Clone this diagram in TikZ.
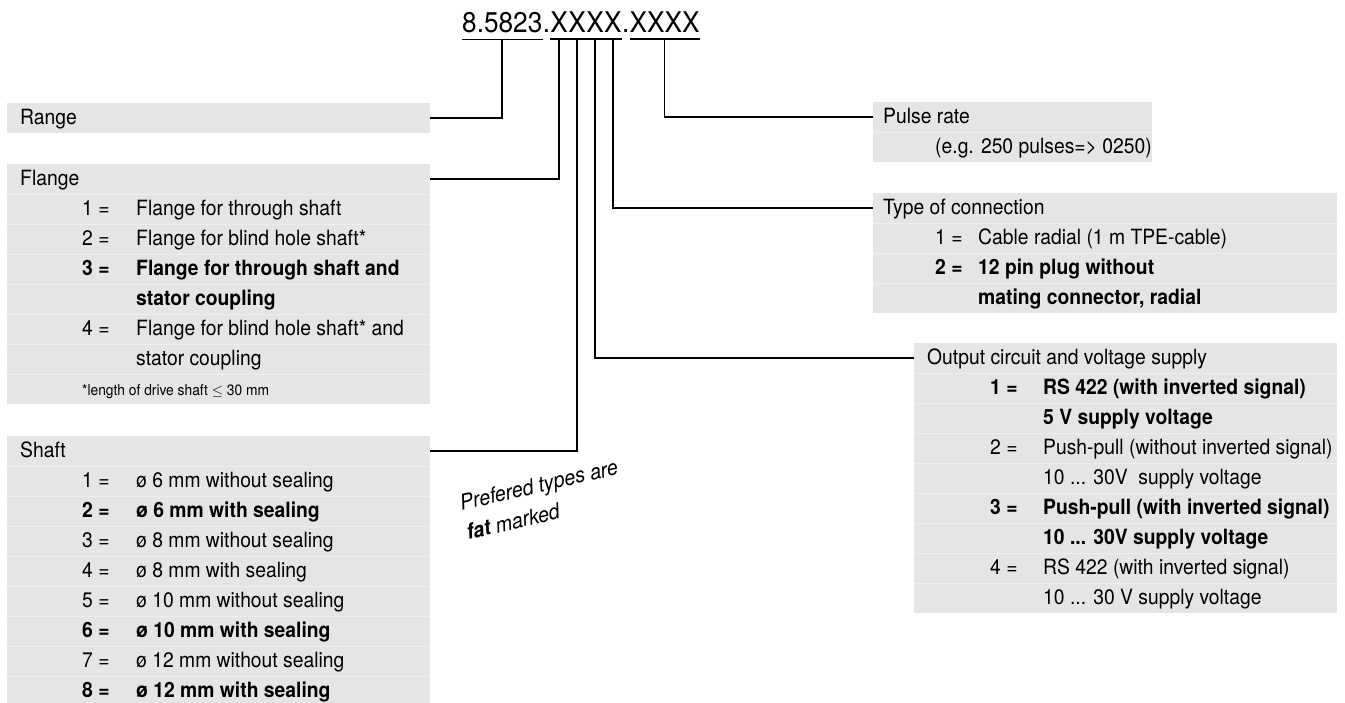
\documentclass[tikz,border=0pt]{standalone}
\usepackage{fontspec}
\setmainfont[FakeStretch=0.92]{TeX Gyre Heros}
\usepackage{array}
\usepackage{colortbl}
\usetikzlibrary{positioning}
\definecolor{boxgray}{RGB}{229,229,229}
\definecolor{rulegray}{RGB}{238,238,238}
\arrayrulecolor{rulegray}
\setlength{\arrayrulewidth}{0.6pt}
\newcommand{\rowsep}{\hline\noalign{\vskip-\arrayrulewidth}}

\begin{document}
\begin{tikzpicture}[x=1pt,y=1pt,
    code/.style={inner sep=0pt,anchor=base west,font=\fontsize{28.5}{34}\selectfont},
    box/.style={fill=boxgray,inner sep=0pt,anchor=north west,font=\fontsize{21}{30}\selectfont},
    lead/.style={line width=1.6pt}]
    \useasboundingbox (0,0) rectangle (1345,-703);

    % order code
    \node [code] (n8) at (462,-33) {8.5823};
    \node [code] (d1) at (n8.base east) {.};
    \node [code] (x1) at (d1.base east) {X};
    \node [code] (x2) at (x1.base east) {X};
    \node [code] (x3) at (x2.base east) {X};
    \node [code] (x4) at (x3.base east) {X};
    \node [code] (d2) at (x4.base east) {.};
    \node [code] (pr) at (d2.base east) {XXXX};

    \draw [lead] ([yshift=-6pt]n8.south west) -- ([yshift=-6pt]n8.south east);
    \draw [lead] ([yshift=-6pt]x1.south west) -- ([yshift=-6pt]x4.south east);
    \draw [lead] ([yshift=-6pt]pr.south west) -- ([yshift=-6pt]pr.south east);

    % left side
    \node [box] (range) at (7,-103) {%
      \begin{tabular}{@{\hspace{13pt}}p{410pt}@{}}
        Range
      \end{tabular}};

    \node [box] (flange) at (7,-164) {%
      \begin{tabular}{@{\hspace{75pt}}p{54pt}@{}p{294pt}@{}}
        \multicolumn{2}{@{\hspace{13pt}}l@{}}{Flange}\\\rowsep
        1 = & Flange for through shaft\\\rowsep
        2 = & Flange for blind hole shaft*\\\rowsep
        \textbf{3 =} & \textbf{Flange for through shaft and}\\\rowsep
        & \textbf{stator coupling}\\\rowsep
        4 = & Flange for blind hole shaft* and\\\rowsep
        & stator coupling\\\rowsep
        \multicolumn{2}{@{\hspace{75pt}}l@{}}{\fontsize{15}{30}\selectfont *length of drive shaft $\le$ 30 mm}
      \end{tabular}};

    \node [box] (shaft) at (7,-436) {%
      \begin{tabular}{@{\hspace{75pt}}p{54pt}@{}p{294pt}@{}}
        \multicolumn{2}{@{\hspace{13pt}}l@{}}{Shaft}\\\rowsep
        1 = & ø 6 mm without sealing\\\rowsep
        \textbf{2 =} & \textbf{ø 6 mm with sealing}\\\rowsep
        3 = & ø 8 mm without sealing\\\rowsep
        4 = & ø 8 mm with sealing\\\rowsep
        5 = & ø 10 mm without sealing\\\rowsep
        \textbf{6 =} & \textbf{ø 10 mm with sealing}\\\rowsep
        7 = & ø 12 mm without sealing\\\rowsep
        \textbf{8 =} & \textbf{ø 12 mm with sealing}
      \end{tabular}};

    % right side
    \node [box] (pulse) at (873,-102) {%
      \begin{tabular}{@{\hspace{62pt}}p{43pt}@{}p{359pt}@{}}
        \multicolumn{2}{@{\hspace{10pt}}l@{}}{Pulse rate}\\\rowsep
        \multicolumn{2}{@{\hspace{62pt}}l@{}}{(e.g. 250 pulses=> 0250)}
      \end{tabular}};

    \node [box] (conn) at (873,-193) {%
      \begin{tabular}{@{\hspace{62pt}}p{43pt}@{}p{359pt}@{}}
        \multicolumn{2}{@{\hspace{10pt}}l@{}}{Type of connection}\\\rowsep
        1 = & Cable radial (1 m TPE-cable)\\\rowsep
        \textbf{2 =} & \textbf{12 pin plug without}\\\rowsep
        & \textbf{mating connector, radial}
      \end{tabular}};

    \node [box] (output) at (914,-343) {%
      \begin{tabular}{@{\hspace{76pt}}p{53pt}@{}p{294pt}@{}}
        \multicolumn{2}{@{\hspace{13pt}}l@{}}{Output circuit and voltage supply}\\\rowsep
        \textbf{1 =} & \textbf{RS 422 (with inverted signal)}\\\rowsep
        & \textbf{5 V supply voltage}\\\rowsep
        2 = & Push-pull (without inverted signal)\\\rowsep
        & 10 ... 30V\ \ supply voltage\\\rowsep
        \textbf{3 =} & \textbf{Push-pull (with inverted signal)}\\\rowsep
        & \textbf{10 ... 30V supply voltage}\\\rowsep
        4 = & RS 422 (with inverted signal)\\\rowsep
        & 10 ... 30 V supply voltage
      \end{tabular}};

    \node [rotate=13,anchor=north west,align=left,inner sep=0pt,
      font=\fontsize{21.5}{30}\selectfont\itshape] (note) at (458,-495)
      {Prefered types are\\\textbf{fat} marked};

    % leads
    \draw [lead] (range.east) -| ([yshift=-6pt]n8.south);
    \draw [lead] ([yshift=-15pt]flange.north east) -| ([yshift=-6pt]x1.south);
    \draw [lead] ([yshift=-15pt]shaft.north east) -| ([yshift=-6pt]x2.south);
    \draw [lead] ([yshift=-15pt]output.north west) -| ([yshift=-6pt]x3.south);
    \draw [lead] ([yshift=-15pt]conn.north west) -| ([yshift=-6pt]x4.south);
    \draw [lead] ([yshift=-15pt]pulse.north west) -| ([yshift=-6pt]pr.south);
\end{tikzpicture}
\end{document}
